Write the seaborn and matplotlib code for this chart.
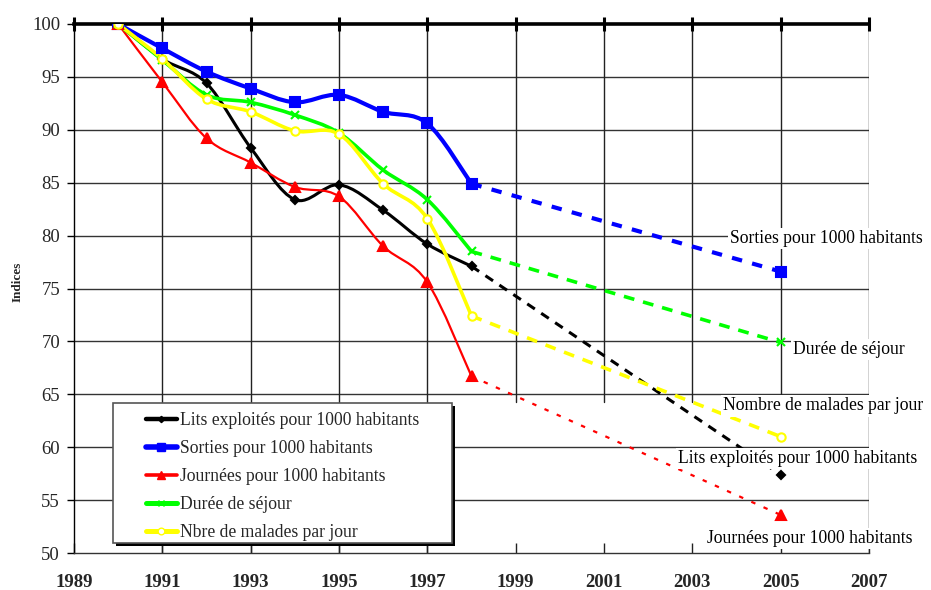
import numpy as np
import seaborn as sns
import matplotlib
matplotlib.use('agg')
import matplotlib.pyplot as plt
from matplotlib.path import Path
from matplotlib.patches import PathPatch, Rectangle
from matplotlib.lines import Line2D

# observed years and indices (base 100 in 1990)
years = [1990, 1991, 1992, 1993, 1994, 1995, 1996, 1997, 1998]
lits = [100, 96.7, 94.4, 88.3, 83.4, 84.8, 82.4, 79.2, 77.1]
sorties = [100, 97.7, 95.5, 93.9, 92.6, 93.3, 91.7, 90.6, 84.9]
journees = [100, 94.5, 89.2, 86.9, 84.6, 83.7, 79.0, 75.6, 66.7]
duree = [100, 96.6, 93.3, 92.6, 91.4, 89.7, 86.2, 83.4, 78.5]
malades = [100, 96.7, 92.9, 91.7, 89.9, 89.6, 84.9, 81.6, 72.4]

# projection for 2005
proj_year = 2005
proj_lits = 57.4
proj_sorties = 76.6
proj_journees = 53.6
proj_duree = 69.9
proj_malades = 61.0

legend_labels = ["Lits exploités pour 1000 habitants", "Sorties pour 1000 habitants",
                 "Journées pour 1000 habitants", "Durée de séjour", "Nbre de malades par jour"]
end_labels = ["Lits exploités pour 1000 habitants", "Sorties pour 1000 habitants",
              "Journées pour 1000 habitants", "Durée de séjour", "Nombre de malades par jour"]

sns.set_theme(style="white")
plt.rcParams['font.family'] = ['Liberation Serif', 'DejaVu Serif']


def smooth_path(xs, ys):
    # excel-like smoothed line (catmull-rom as bezier curves)
    pts = np.column_stack([xs, ys]).astype(float)
    n = len(pts)
    verts = [pts[0]]
    codes = [Path.MOVETO]
    for i in range(n - 1):
        p0 = pts[i - 1] if i > 0 else pts[i]
        p1 = pts[i]
        p2 = pts[i + 1]
        p3 = pts[i + 2] if i + 2 < n else pts[i + 1]
        verts += [p1 + (p2 - p0) / 6, p2 - (p3 - p1) / 6, p2]
        codes += [Path.CURVE4] * 3
    return Path(verts, codes)


fig = plt.figure(figsize=(9.31, 5.90), dpi=100)
ax = fig.add_axes([74 / 931, 1 - 553 / 590, (869 - 74) / 931, (553 - 24) / 590])
ax.set_xlim(1989, 2007)
ax.set_ylim(50, 100)
ax.set_xticks(range(1989, 2008, 2))
ax.set_yticks(range(50, 101, 5))

# grid
for v in range(55, 100, 5):
    ax.axhline(v, color='#333333', lw=1, zorder=0)
for yr in [1991, 1993, 1995, 1997, 2007]:
    ax.axvline(yr, color='#222222', lw=1, zorder=0)
for yr in [1999, 2001, 2003, 2005]:
    ax.axvline(yr, ymin=0.286, color='#222222', lw=1, zorder=0)

series = [
    (lits, proj_lits, 'black', 2.2, 'D', 4, (3, 2.5), 'black'),
    (sorties, proj_sorties, '#0000ff', 3.0, 's', 7, (2.5, 2.5), '#0000ff'),
    (journees, proj_journees, '#ff0000', 1.6, '^', 7, (2, 4), '#ff0000'),
    (duree, proj_duree, '#00ff00', 2.6, 'x', 6, (3, 2.5), '#00ff00'),
    (malades, proj_malades, '#ffff00', 2.6, 'o', 6, (3, 2.5), 'white'),
]

handles = []
for vals, pv, col, lw, mk, ms, dash, mfc in series:
    ax.add_patch(PathPatch(smooth_path(years, vals), fill=False, edgecolor=col,
                           lw=lw, capstyle='round', joinstyle='round', zorder=3))
    sns.lineplot(x=[years[-1], proj_year], y=[vals[-1], pv], color=col, lw=lw,
                 dashes=False, ax=ax, zorder=2).lines[-1].set_dashes(dash)
    ax.plot(years + [proj_year], vals + [pv], ls='none', marker=mk, ms=ms, color=col,
            mfc=mfc if mk == 'o' else col, mec=col, mew=1.5, zorder=4)
    handles.append(Line2D([], [], color=col, lw=lw + 1, marker=mk, ms=ms * 0.8,
                          mfc=mfc if mk == 'o' else col, mec=col))

# labels at the end of the projections
label_pos = [(2002.67, 58.9), (2003.85, 79.7), (2003.33, 51.4), (2005.28, 69.2), (2003.69, 63.9)]
for txt, (lx, ly) in zip(end_labels, label_pos):
    ax.text(lx, ly, txt, ha='left', va='center', fontsize=12.7, color='black', zorder=6,
            clip_on=False, bbox=dict(facecolor='white', edgecolor='none', pad=1.5))

# axes styling
ax.spines['right'].set_visible(False)
ax.spines['top'].set_linewidth(2.6)
ax.spines['top'].set_color('black')
ax.spines['left'].set_linewidth(1)
ax.spines['left'].set_color('black')
ax.spines['bottom'].set_linewidth(1)
ax.spines['bottom'].set_color('#333333')

ax.tick_params(axis='x', bottom=True, top=False, direction='in', length=7, width=1,
               color='#222222', pad=15, labelsize=13.5)
ax.tick_params(axis='y', left=True, direction='out', length=5, width=1, color='black',
               pad=5, labelsize=13.5)
for lab in ax.get_xticklabels():
    lab.set_fontweight('bold')

top = ax.secondary_xaxis('top')
top.set_xticks(range(1989, 2008, 2))
top.tick_params(axis='x', direction='inout', length=10, width=2.2, color='black', labeltop=False)
top.spines['top'].set_visible(False)

ax.set_ylabel('Indices', fontsize=9.5, fontweight='bold')
ax.yaxis.set_label_coords(-0.064, 0.512)
ax.set_xlabel('')

# legend box with shadow
fig.patches.append(Rectangle((116 / 931, 1 - 546 / 590), 339 / 931, 140 / 590,
                             transform=fig.transFigure, facecolor='black', edgecolor='none',
                             zorder=8))
fig.patches.append(Rectangle((113 / 931, 1 - 543 / 590), 339 / 931, 140 / 590,
                             transform=fig.transFigure, facecolor='white', edgecolor='#555555',
                             lw=1.2, zorder=9))
leg = fig.legend(handles, legend_labels, loc='upper left',
                 bbox_to_anchor=(146 / 931, 1 - 412 / 590), bbox_transform=fig.transFigure,
                 frameon=False, borderpad=0, borderaxespad=0, fontsize=12.7,
                 handlelength=1.75, handletextpad=0.15, labelspacing=0.62)
leg.set_zorder(10)

fig.savefig('out.png', dpi=100)
